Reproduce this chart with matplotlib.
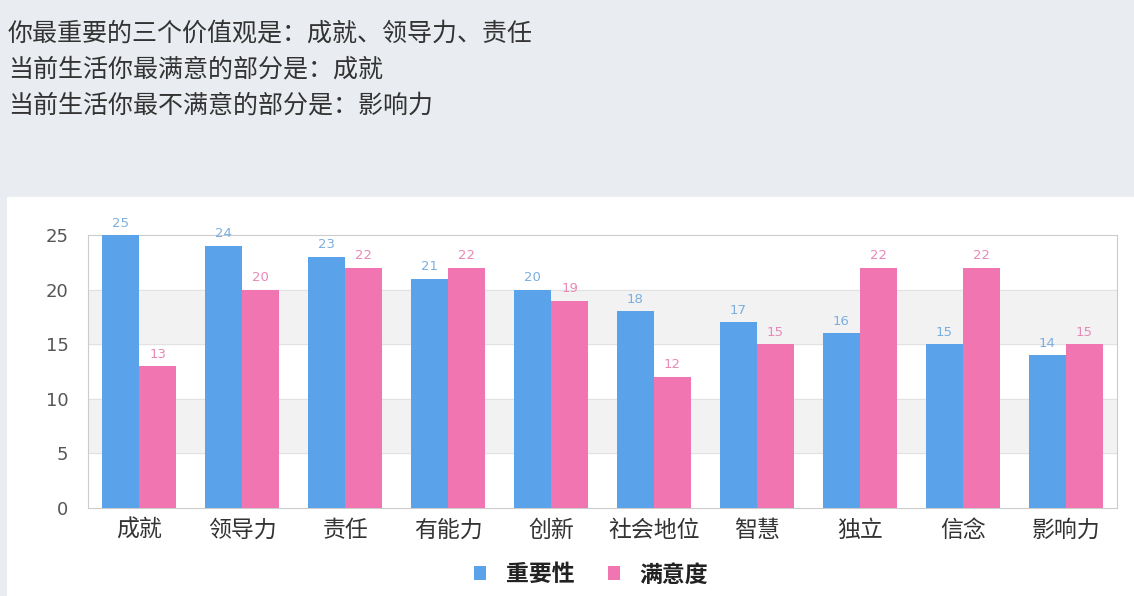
import numpy as np
import matplotlib.pyplot as plt
from matplotlib.patches import Rectangle

plt.rcParams['font.family'] = ['Noto Sans CJK SC', 'DejaVu Sans']

# data
categories = ['成就', '领导力', '责任', '有能力', '创新', '社会地位', '智慧', '独立', '信念', '影响力']
importance = [25, 24, 23, 21, 20, 18, 17, 16, 15, 14]
satisfaction = [13, 20, 22, 22, 19, 12, 15, 22, 22, 15]
series_names = ['重要性', '满意度']
header_lines = [
    '你最重要的三个价值观是：成就、领导力、责任',
    '当前生活你最满意的部分是：成就',
    '当前生活你最不满意的部分是：影响力',
]

blue = '#5aa2ea'
pink = '#f075b1'
W, H = 1134, 596

fig = plt.figure(figsize=(W / 100, H / 100), dpi=100)
fig.patch.set_facecolor('#e9ecf0')

# white panel behind the chart
fig.patches.append(Rectangle((7 / W, 0), 1 - 7 / W, (H - 197) / H,
                             transform=fig.transFigure, facecolor='white',
                             edgecolor='none', zorder=-5))

# header text
for i, line in enumerate(header_lines):
    fig.text(8 / W, 1 - (33 + 36 * i) / H, line, fontsize=18, color='#333333',
             va='center', ha='left')

ax = fig.add_axes([88 / W, 1 - 508 / H, (1117 - 88) / W, (508 - 235) / H])
ax.set_facecolor('white')

x = np.arange(len(categories))
bw = 0.36
b1 = ax.bar(x - bw / 2, importance, bw, color=blue, zorder=3, label=series_names[0])
b2 = ax.bar(x + bw / 2, satisfaction, bw, color=pink, zorder=3, label=series_names[1])

# alternating bands and grid lines
ax.set_ylim(0, 25)
ax.set_xlim(-0.5, len(categories) - 0.5)
for lo in [5, 15]:
    ax.axhspan(lo, lo + 5, color='#f2f2f2', zorder=0)
for y in [5, 10, 15, 20]:
    ax.axhline(y, color='#e2e2e2', lw=0.8, zorder=1)

for bars, col in [(b1, '#7aaee0'), (b2, '#e889b8')]:
    for b in bars:
        ax.text(b.get_x() + b.get_width() / 2, b.get_height() + 0.5,
                str(int(b.get_height())), ha='center', va='bottom',
                fontsize=9.5, color=col, zorder=4, family='DejaVu Sans')

ax.set_yticks([0, 5, 10, 15, 20, 25])
ax.set_yticklabels(['0', '5', '10', '15', '20', '25'], family='DejaVu Sans')
ax.set_xticks(x)
ax.set_xticklabels(categories, fontsize=16.5, color='#333333')
ax.tick_params(axis='y', length=0, pad=14, labelsize=13, labelcolor='#555555')
ax.tick_params(axis='x', length=0, pad=8)
for s in ax.spines.values():
    s.set_color('#cccccc')
    s.set_linewidth(0.8)

leg = ax.legend(loc='center', bbox_to_anchor=(0.489, -0.245), ncol=2,
                frameon=False, prop={'size': 16.5, 'weight': 'bold'},
                handlelength=0.55, handleheight=0.55,
                columnspacing=1.45, handletextpad=0.85)
for t in leg.get_texts():
    t.set_color('#222222')

fig.savefig('out.png', dpi=100)
